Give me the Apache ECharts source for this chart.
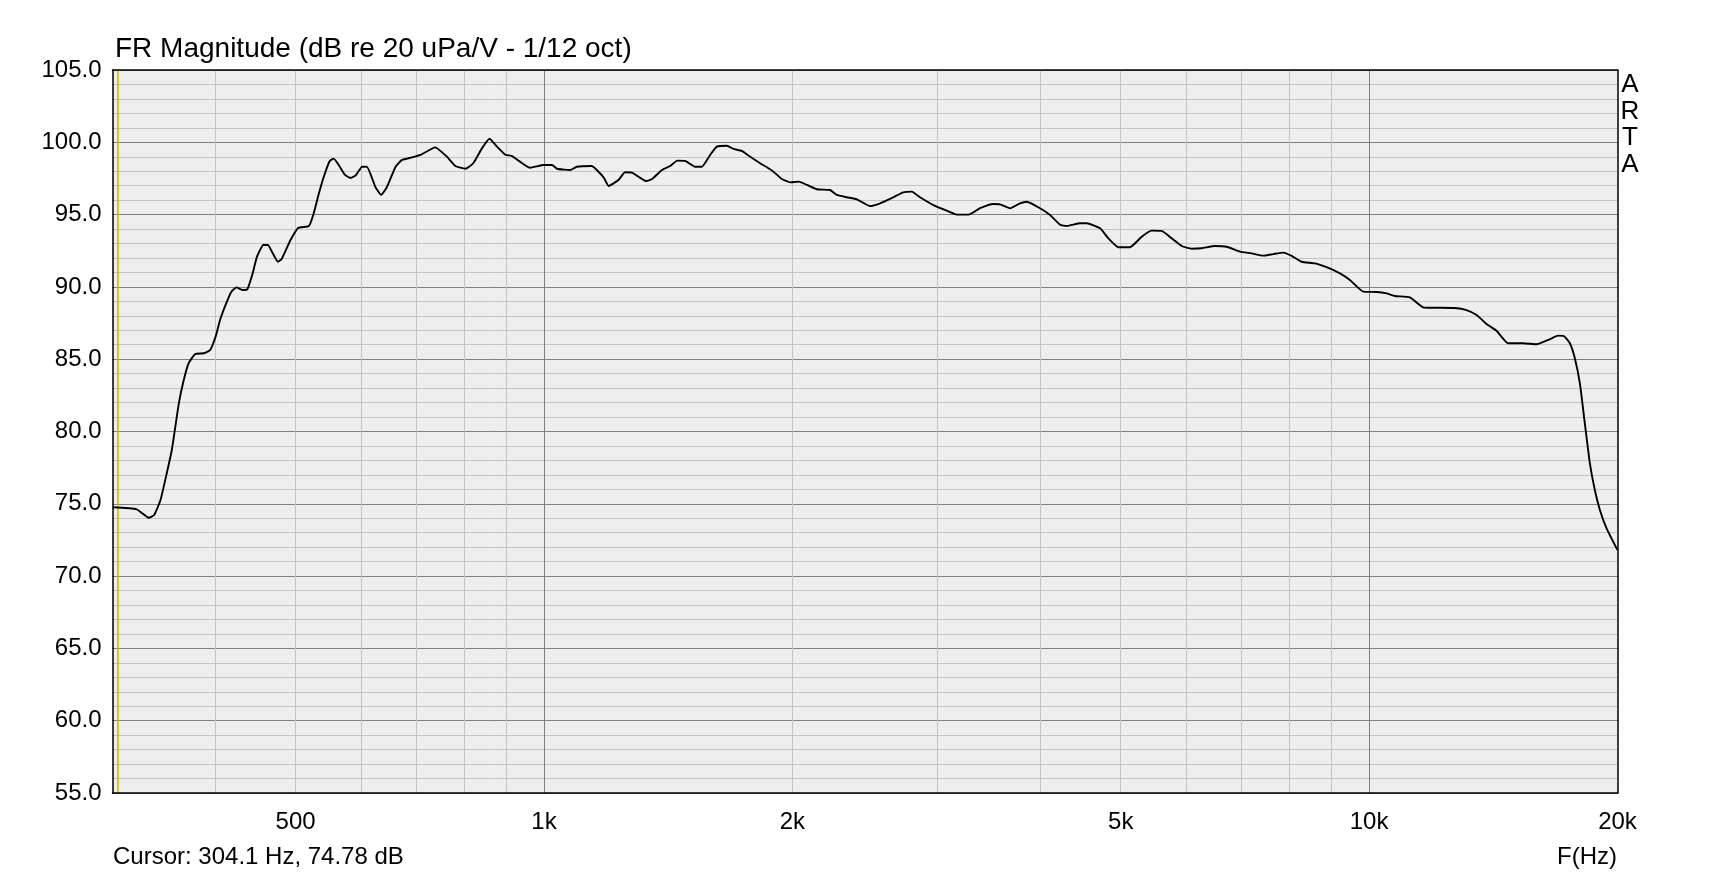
<!DOCTYPE html>
<html><head><meta charset="utf-8">
<script src="https://cdn.jsdelivr.net/npm/echarts@6/dist/echarts.min.js"></script>
<style>html,body{margin:0;padding:0;background:#fff}#c{width:1729px;height:877px}</style>
</head><body><div id="c"></div>
<script>
const titleText = 'FR Magnitude (dB re 20 uPa/V - 1/12 oct)';
const xAxisName = 'F(Hz)';
const cursorFreq = 304.1;
const cursorDb = 74.78;
const watermark = ['A', 'R', 'T', 'A'];

const freqHz = [300, 321, 332, 337, 343, 349, 354, 361, 366, 371, 378, 387, 394, 400, 405, 412, 418, 424, 431, 437,
  443, 449, 457, 463, 468, 476, 481, 493, 504, 519, 526, 533, 541, 550, 556, 564, 574, 583, 592, 602,
  610, 625, 635, 645, 661, 673, 692, 711, 738, 763, 781, 803, 821, 841, 859, 877, 898, 915, 962, 1000,
  1023, 1037, 1076, 1096, 1143, 1170, 1183, 1198, 1231, 1254, 1278, 1302, 1330, 1351, 1390, 1422, 1451, 1483, 1525, 1554,
  1590, 1620, 1666, 1697, 1737, 1778, 1828, 1863, 1897, 1942, 1988, 2038, 2083, 2141, 2222, 2264, 2328, 2394, 2485, 2555,
  2651, 2726, 2791, 2856, 2965, 3077, 3164, 3269, 3377, 3505, 3571, 3672, 3776, 3847, 3992, 4105, 4221, 4301, 4464, 4548,
  4720, 4831, 4967, 5131, 5302, 5451, 5605, 5765, 5928, 6095, 6267, 6504, 6720, 6975, 7206, 7442, 7653, 7869, 8056, 8283,
  8596, 8882, 9217, 9478, 9838, 10212, 10500, 10745, 11204, 11628, 11957, 12703, 13125, 13497, 13878, 14270, 14741, 15371, 15959, 16482,
  16948, 17219, 17511, 17756, 18007, 18258, 18516, 18774, 19040, 19398, 20000];
const magDb = [74.76, 74.62, 74.04, 74.23, 75.26, 77.1, 78.72, 81.95, 83.56, 84.72, 85.36, 85.41, 85.64, 86.56, 87.71, 88.86, 89.67, 89.97, 89.79, 89.83,
  90.82, 92.09, 92.90, 92.90, 92.44, 91.74, 91.93, 93.24, 94.09, 94.21, 95.09, 96.36, 97.62, 98.71, 98.87, 98.43, 97.74, 97.53, 97.74, 98.31,
  98.31, 96.89, 96.36, 96.89, 98.31, 98.78, 98.96, 99.17, 99.65, 99.0, 98.36, 98.17, 98.55, 99.58, 100.25, 99.70, 99.14, 99.05, 98.24, 98.43,
  98.43, 98.17, 98.08, 98.31, 98.36, 97.84, 97.51, 96.98, 97.39, 97.93, 97.90, 97.62, 97.32, 97.44, 98.08, 98.36, 98.73, 98.71, 98.31, 98.31,
  99.12, 99.70, 99.76, 99.54, 99.40, 99.0, 98.55, 98.27, 97.97, 97.46, 97.23, 97.28, 97.05, 96.75, 96.70, 96.36, 96.20, 96.06, 95.59, 95.78,
  96.20, 96.54, 96.59, 96.20, 95.66, 95.27, 95.0, 95.0, 95.44, 95.73, 95.71, 95.44, 95.78, 95.89, 95.44, 94.97, 94.30, 94.21, 94.40, 94.40,
  94.05, 93.36, 92.74, 92.74, 93.47, 93.89, 93.87, 93.36, 92.83, 92.64, 92.67, 92.83, 92.78, 92.44, 92.32, 92.16, 92.27, 92.37, 92.14, 91.74,
  91.63, 91.36, 90.94, 90.48, 89.67, 89.65, 89.55, 89.37, 89.28, 88.59, 88.56, 88.54, 88.40, 88.06, 87.43, 86.97, 86.10, 86.10, 86.03, 86.33,
  86.63, 86.60, 86.10, 85.06, 83.33, 80.56, 77.80, 75.95, 74.57, 73.30, 71.80];

const xMin = 300, xMax = 20000;
const xTickValues = [500, 1000, 2000, 5000, 10000, 20000];
const xTickLabels = ['500', '1k', '2k', '5k', '10k', '20k'];
const yMin = 55, yMax = 105, yStep = 5;
const minorFreqGrid = [400, 500, 600, 700, 800, 900, 2000, 3000, 4000, 5000, 6000, 7000, 8000, 9000];
const majorFreqGrid = [1000, 10000];

const FONT = "'Liberation Sans', Arial, sans-serif";
const chart = echarts.init(document.getElementById('c'), null, {renderer: 'canvas'});

function xLabel(v) {
  let best = 0, bd = Infinity;
  xTickValues.forEach((t, i) => { const d = Math.abs(Math.log(v / t)); if (d < bd) { bd = d; best = i; } });
  return xTickLabels[best];
}

const gridLineData = minorFreqGrid.map(f => ({xAxis: f, lineStyle: {color: '#c4c4c4', width: 1, type: 'solid'}}))
  .concat(majorFreqGrid.map(f => ({xAxis: f, lineStyle: {color: '#808080', width: 1, type: 'solid'}})));

const option = {
  backgroundColor: '#ffffff',
  animation: false,
  grid: {left: 112.5, right: 111.5, top: 70, bottom: 84, show: true, backgroundColor: '#eeeeee', borderWidth: 0},
  graphic: [
    {type: 'text', left: 115, top: 35, style: {text: titleText, font: '28px ' + FONT, fill: '#000'}},
    {type: 'text', left: 113, top: 845, style: {text: 'Cursor: ' + cursorFreq.toFixed(1) + ' Hz, ' + cursorDb.toFixed(2) + ' dB', font: '24px ' + FONT, fill: '#000'}},
    {type: 'text', right: 112, top: 845, style: {text: xAxisName, font: '24px ' + FONT, fill: '#000'}}
  ].concat(watermark.map((ch, i) => ({type: 'text', x: 1630, y: 85 + i * 26.5, style: {text: ch, font: '26px ' + FONT, fill: '#000', textAlign: 'center', textVerticalAlign: 'middle'}}))),
  xAxis: [{
    type: 'log', logBase: 10, min: xMin, max: xMax, position: 'bottom', z: 3,
    axisLine: {show: true, lineStyle: {color: '#000', width: 1.5}},
    axisTick: {show: false},
    splitLine: {show: false},
    minorTick: {show: false},
    axisLabel: {customValues: xTickValues, formatter: xLabel, fontSize: 24, fontFamily: FONT, color: '#000', margin: 17}
  }, {
    type: 'log', logBase: 10, min: xMin, max: xMax, position: 'top', z: 3,
    axisLine: {show: true, lineStyle: {color: '#000', width: 1.5}},
    axisTick: {show: false}, axisLabel: {show: false}, splitLine: {show: false}
  }],
  yAxis: [{
    type: 'value', min: yMin, max: yMax, interval: yStep, position: 'left',
    axisLine: {show: true, lineStyle: {color: '#000', width: 1.5}},
    axisTick: {show: false},
    axisLabel: {formatter: v => v.toFixed(1), fontSize: 24, fontFamily: FONT, color: '#000', margin: 11},
    splitLine: {show: true, lineStyle: {color: '#808080', width: 1}},
    minorTick: {show: false, splitNumber: 5},
    minorSplitLine: {show: true, lineStyle: {color: '#c4c4c4', width: 1}}
  }, {
    type: 'value', min: yMin, max: yMax, interval: yStep, position: 'right', z: 3,
    axisLine: {show: true, lineStyle: {color: '#000', width: 1.5}},
    axisTick: {show: false}, axisLabel: {show: false}, splitLine: {show: false}
  }],
  series: [{
    type: 'line', data: [], z: 1, silent: true,
    markLine: {silent: true, symbol: ['none', 'none'], label: {show: false}, z: 1, animation: false, data: gridLineData}
  }, {
    type: 'line', data: [], z: 2, silent: true,
    markLine: {silent: true, symbol: ['none', 'none'], label: {show: false}, z: 2, animation: false,
      data: [{xAxis: cursorFreq, lineStyle: {color: '#c8b400', width: 1.5, type: 'solid'}}]}
  }, {
    type: 'line', z: 10, showSymbol: false, symbol: 'none', smooth: 0.15,
    lineStyle: {color: '#000', width: 1.9},
    data: freqHz.map((f, i) => [f, magDb[i]])
  }]
};
chart.setOption(option);
</script></body></html>
